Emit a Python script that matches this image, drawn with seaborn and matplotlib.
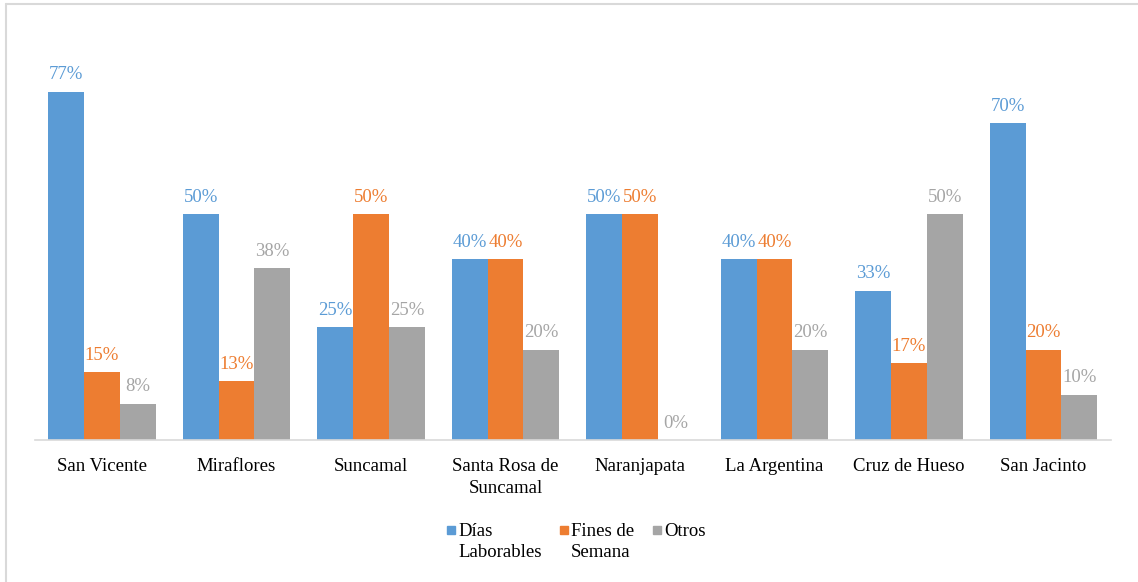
import matplotlib
matplotlib.use("Agg")
import matplotlib.pyplot as plt
import seaborn as sns
import pandas as pd
from matplotlib.patches import Rectangle
from matplotlib.lines import Line2D

localidades = ["San Vicente", "Miraflores", "Suncamal", "Santa Rosa de\nSuncamal",
               "Naranjapata", "La Argentina", "Cruz de Hueso", "San Jacinto"]
series = ["Días\nLaborables", "Fines de\nSemana", "Otros"]
dias_laborables = [77, 50, 25, 40, 50, 40, 33, 70]
fines_de_semana = [15, 13, 50, 40, 50, 40, 17, 20]
otros = [8, 38, 25, 20, 0, 20, 50, 10]
colores = ["#5B9BD5", "#ED7D31", "#A5A5A5"]

df = pd.DataFrame({
    "Localidad": localidades * 3,
    "Serie": [s for s in series for _ in localidades],
    "Valor": dias_laborables + fines_de_semana + otros,
})

sns.set_theme(style="white")
plt.rcParams["font.family"] = ["Liberation Serif", "DejaVu Serif"]
FS = 13.5

W, H = 1138, 582
fig = plt.figure(figsize=(W / 100, H / 100), dpi=100)
ax = fig.add_axes([34.75 / W, (H - 440) / H, (1110.75 - 34.75) / W, (440 - 33) / H])

sns.barplot(data=df, x="Localidad", y="Valor", hue="Serie", hue_order=series,
            palette=colores, width=0.8, ax=ax, legend=False, saturation=1,
            linewidth=0, edgecolor="none")

ax.set_ylim(0, 90)
ax.set_xlim(-0.5, len(localidades) - 0.5)
ax.set_xlabel("")
ax.set_ylabel("")
ax.set_yticks([])
for side in ["left", "right", "top"]:
    ax.spines[side].set_visible(False)
ax.spines["bottom"].set_color("#D9D9D9")
ax.spines["bottom"].set_linewidth(1.2)
ax.tick_params(axis="x", length=0, pad=13, labelsize=FS, labelcolor="#000000")
for lbl in ax.get_xticklabels():
    lbl.set_linespacing(1.35)

for cont, color in zip(ax.containers, colores):
    ax.bar_label(cont, labels=[f"{v:.0f}%" for v in cont.datavalues],
                 padding=6, color=color, fontsize=FS)

# legend: small squares aligned with the first line of each label
leg_x = [447, 560, 653]
leg_y = 530
for x, color, text in zip(leg_x, colores, series):
    fig.patches.append(Rectangle((x / W, 1 - (leg_y + 4) / H), 8 / W, 8 / H,
                                 transform=fig.transFigure, color=color))
    fig.text((x + 11) / W, 1 - (leg_y - 7) / H, text, ha="left", va="top",
             fontsize=FS, linespacing=1.3, color="#000000")

# light frame lines on the left and top
fig.add_artist(Line2D([5.5 / W, 5.5 / W], [0, 1 - 4 / H], transform=fig.transFigure,
                      color="#D9D9D9", linewidth=1.5))
fig.add_artist(Line2D([5.5 / W, 1], [1 - 4 / H, 1 - 4 / H], transform=fig.transFigure,
                      color="#D9D9D9", linewidth=1.5))

fig.savefig("out.png", dpi=100, facecolor="white")
